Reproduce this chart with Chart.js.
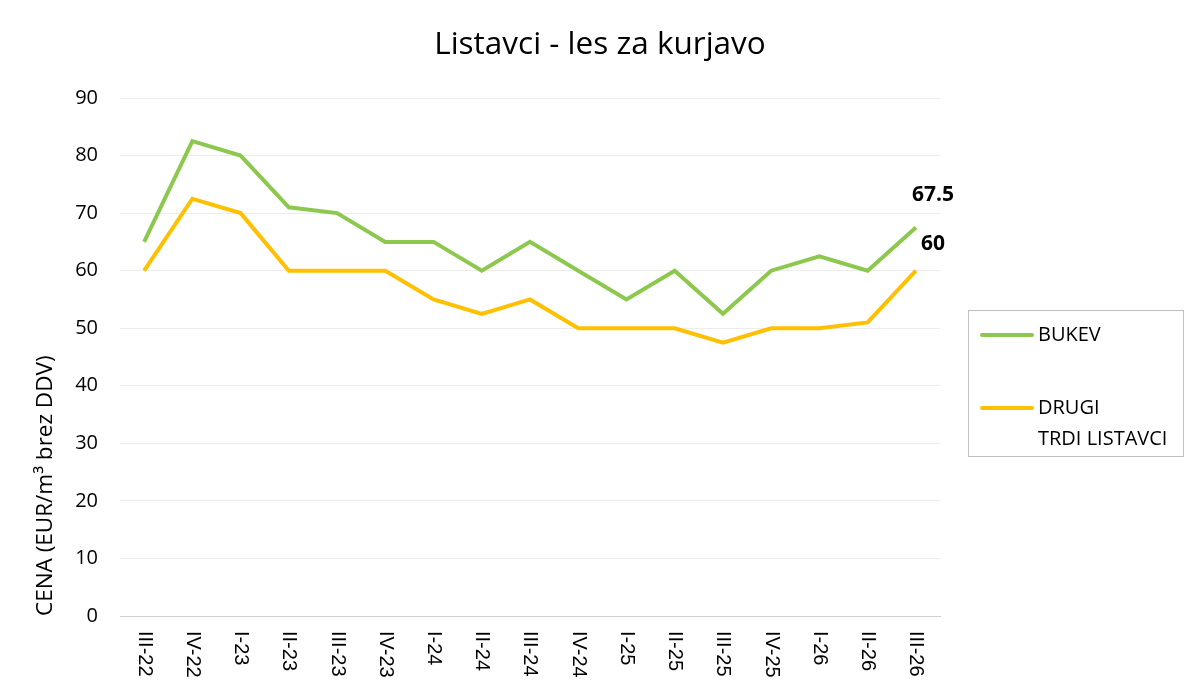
<!DOCTYPE html>
<html>
<head>
<meta charset="utf-8">
<title>Listavci - les za kurjavo</title>
<script src="https://cdn.jsdelivr.net/npm/chart.js@4"></script>
<style>
  html, body { margin: 0; padding: 0; background: #fff; }
  #wrap { position: relative; width: 1200px; height: 699px; }
  #legend {
    position: absolute; left: 968px; top: 310px; width: 216px; height: 147px;
    border: 1px solid #bfbfbf; box-sizing: border-box;
    font-family: "Open Sans", sans-serif; font-size: 20px; color: #000;
  }
  .item { position: absolute; left: 11px; display: flex; align-items: flex-start; }
  .swatch { width: 54px; height: 4px; border-radius: 2px; margin-top: 13px; margin-right: 4px; }
  .txt { line-height: 31px; margin-top: -2px; }
</style>
</head>
<body>
<div id="wrap">
  <canvas id="chart" width="1200" height="699"></canvas>
  <div id="legend"></div>
</div>
<script>
// Quarters on the x axis
const quarters = ['III-22', 'IV-22', 'I-23', 'II-23', 'III-23', 'IV-23', 'I-24', 'II-24', 'III-24',
    'IV-24', 'I-25', 'II-25', 'III-25', 'IV-25', 'I-26', 'II-26', 'III-26'];

// Prices (EUR/m3 without VAT)
const bukev = [65, 82.5, 80, 71, 70, 65, 65, 60, 65, 60, 55, 60, 52.5, 60, 62.5, 60, 67.5];
const drugiListavci = [60, 72.5, 70, 60, 60, 60, 55, 52.5, 55, 50, 50, 50, 47.5, 50, 50, 51, 60];

const yTicks = [0, 10, 20, 30, 40, 50, 60, 70, 80, 90];

const chartTitle = 'Listavci - les za kurjavo';

// Draws the title, x labels rotated clockwise (top to bottom) and the value at the last point
const customLabels = {
    id: 'customLabels',
    afterDraw(chart) {
        const ctx = chart.ctx;
        const xScale = chart.scales.x;
        ctx.save();
        ctx.fillStyle = '#000';

        // title, centred on the whole picture
        ctx.font = '31.5px "Open Sans", sans-serif';
        ctx.textAlign = 'center';
        ctx.textBaseline = 'middle';
        ctx.fillText(chartTitle, 600, 45);

        ctx.font = '20px "Liberation Sans", Arial, sans-serif';
        ctx.textAlign = 'left';
        quarters.forEach((q, i) => {
            const x = xScale.getPixelForValue(i);
            ctx.save();
            ctx.translate(x, chart.chartArea.bottom + 15);
            ctx.rotate(Math.PI / 2);
            ctx.fillText(q, 0, 0);
            ctx.restore();
        });

        // end values
        ctx.font = 'bold 21px "Open Sans", sans-serif';
        ctx.textAlign = 'center';
        const offsets = [32, 27];
        chart.data.datasets.forEach((ds, di) => {
            const meta = chart.getDatasetMeta(di);
            const last = meta.data[meta.data.length - 1];
            const val = ds.data[ds.data.length - 1];
            ctx.fillText(String(val), last.x + 17, last.y - offsets[di]);
        });
        ctx.restore();
    }
};

const ctx = document.getElementById('chart').getContext('2d');
const chart = new Chart(ctx, {
    type: 'line',
    data: {
        labels: quarters,
        datasets: [{
            label: 'BUKEV',
            data: bukev,
            borderColor: '#8DC84E',
            backgroundColor: '#8DC84E',
            borderWidth: 4,
            pointRadius: 0,
            tension: 0
        }, {
            label: 'DRUGI TRDI LISTAVCI',
            data: drugiListavci,
            borderColor: '#FFC000',
            backgroundColor: '#FFC000',
            borderWidth: 4,
            pointRadius: 0,
            tension: 0
        }]
    },
    options: {
        responsive: false,
        animation: false,
        layout: { padding: { left: 0, right: 260, top: 98, bottom: 0 } },
        plugins: {
            legend: { display: false },
            tooltip: { enabled: false },
            title: { display: false }
        },
        scales: {
            x: {
                offset: true,
                grid: { display: false, drawTicks: false },
                border: { display: true, color: '#d0d0d0', width: 1 },
                ticks: { display: false },
                afterFit(scale) { scale.height = 83; }
            },
            y: {
                min: 0,
                max: 90,
                afterBuildTicks(scale) { scale.ticks = yTicks.map(v => ({ value: v })); },
                grid: { color: '#ececec', drawTicks: false },
                border: { display: false },
                ticks: {
                    color: '#000',
                    padding: 22,
                    font: { family: '"Open Sans", sans-serif', size: 20 }
                },
                title: {
                    display: true,
                    text: 'CENA (EUR/m³ brez DDV)',
                    align: 'start',
                    color: '#000',
                    font: { family: '"Open Sans", sans-serif', size: 22.5 },
                    padding: { top: 32, bottom: 0 }
                },
                afterFit(scale) { scale.width = 120; }
            }
        }
    },
    plugins: [customLabels]
});

// HTML legend built from the datasets (box with wrapped text)
const legendEl = document.getElementById('legend');
const itemTops = [9, 82];
chart.data.datasets.forEach((ds, i) => {
    const item = document.createElement('div');
    item.className = 'item';
    item.style.top = itemTops[i] + 'px';
    const sw = document.createElement('div');
    sw.className = 'swatch';
    sw.style.background = ds.borderColor;
    const txt = document.createElement('div');
    txt.className = 'txt';
    txt.innerHTML = i === 1 ? 'DRUGI<br>TRDI LISTAVCI' : ds.label;
    item.appendChild(sw);
    item.appendChild(txt);
    legendEl.appendChild(item);
});
</script>
</body>
</html>
